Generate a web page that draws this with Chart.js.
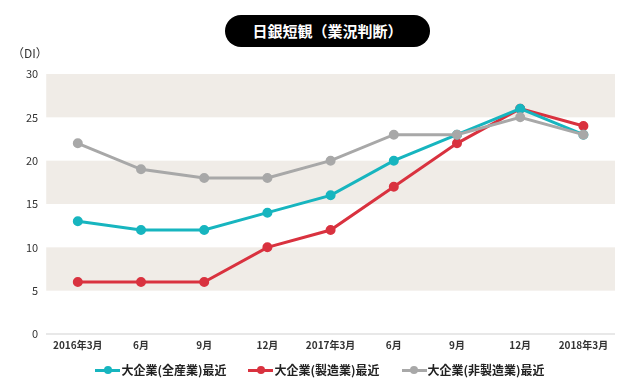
<!DOCTYPE html>
<html>
<head>
<meta charset="utf-8">
<script src="https://cdn.jsdelivr.net/npm/chart.js@4"></script>
<style>
  body { margin: 0; background: #fff; font-family: "Noto Sans CJK JP", sans-serif; }
  #wrap { position: relative; width: 640px; height: 390px; }
  #title {
    position: absolute; left: 225px; top: 15px; width: 205px; height: 32px;
    background: #000; border-radius: 16px; color: #fff; font-weight: bold;
    font-size: 15px; line-height: 32px; text-align: center;
  }
  #unit { position: absolute; left: 12px; top: 44px; font-size: 12px; color: #333; }
  #legend {
    position: absolute; left: 0; width: 640px; top: 361px; display: flex; justify-content: center;
    font-size: 12px; line-height: 18px; color: #222; font-weight: bold;
  }
  .item { display: flex; align-items: center; margin: 0 11px; }
  .mark { position: relative; width: 25px; height: 3px; margin-right: 1px; }
  .mark i { position: absolute; left: 8.5px; top: -2.5px; width: 8px; height: 8px; border-radius: 50%; }
</style>
</head>
<body>
<div id="wrap">
  <canvas id="chart" width="640" height="390"></canvas>
  <div id="title">日銀短観（業況判断）</div>
  <div id="unit">（DI）</div>
  <div id="legend"></div>
</div>
<script>
'use strict';
let labels = ['2016年3月', '6月', '9月', '12月', '2017年3月', '6月', '9月', '12月', '2018年3月'];
let allIndustries = [13, 12, 12, 14, 16, 20, 23, 26, 23];
let manufacturing = [6, 6, 6, 10, 12, 17, 22, 26, 24];
let nonManufacturing = [22, 19, 18, 18, 20, 23, 23, 25, 23];
let seriesNames = ['大企業(全産業)最近', '大企業(製造業)最近', '大企業(非製造業)最近'];
let seriesColors = ['#17b5bf', '#d9323f', '#a8a8a8'];
let yTicks = [0, 5, 10, 15, 20, 25, 30];

// shaded bands behind the lines: 25-30, 15-20, 5-10
let bandPlugin = {
  id: 'bands',
  beforeDatasetsDraw(chart) {
    let ctx = chart.ctx;
    let area = chart.chartArea;
    let y = chart.scales.y;
    ctx.save();
    ctx.fillStyle = '#f0ece7';
    for (let v = 25; v > 0; v -= 10) {
      let top = y.getPixelForValue(v + 5);
      let bottom = y.getPixelForValue(v);
      ctx.fillRect(area.left, top, area.right - area.left, bottom - top);
    }
    ctx.restore();
  }
};

function makeSet(name, data, color) {
  return {
    label: name,
    data: data,
    borderColor: color,
    backgroundColor: color,
    borderWidth: 3,
    pointRadius: 3.5,
    pointHoverRadius: 3.5,
    tension: 0
  };
}

let chart = new Chart(document.getElementById('chart'), {
  type: 'line',
  data: {
    labels: labels,
    datasets: [
      makeSet(seriesNames[2], nonManufacturing, seriesColors[2]),
      makeSet(seriesNames[0], allIndustries, seriesColors[0]),
      makeSet(seriesNames[1], manufacturing, seriesColors[1])
    ]
  },
  options: {
    responsive: false,
    animation: false,
    layout: { padding: { top: 74, right: 25, left: 18, bottom: 34 } },
    plugins: { legend: { display: false }, tooltip: { enabled: false } },
    scales: {
      x: {
        offset: true,
        grid: { display: false, drawTicks: false },
        border: { display: false },
        ticks: { color: '#333', font: { family: 'Noto Sans CJK JP', size: 10, weight: 'bold' }, maxRotation: 0, autoSkip: false, padding: 5 }
      },
      y: {
        min: 0,
        max: 30,
        afterBuildTicks(scale) { scale.ticks = yTicks.map(v => ({ value: v })); },
        grid: {
          color: c => c.tick && c.tick.value === 0 ? '#e8e8e8' : 'transparent',
          lineWidth: 2,
          drawTicks: false
        },
        border: { display: false },
        ticks: { color: '#333', font: { family: 'Noto Sans CJK JP', size: 11 }, padding: 8 }
      }
    }
  },
  plugins: [bandPlugin]
});

// legend built from the series names and colours
let legend = document.getElementById('legend');
for (let i = 0; i < seriesNames.length; i++) {
  let item = document.createElement('div');
  item.className = 'item';
  item.innerHTML = `<span class="mark" style="background:${seriesColors[i]}"><i style="background:${seriesColors[i]}"></i></span>${seriesNames[i]}`;
  legend.appendChild(item);
}
</script>
</body>
</html>
